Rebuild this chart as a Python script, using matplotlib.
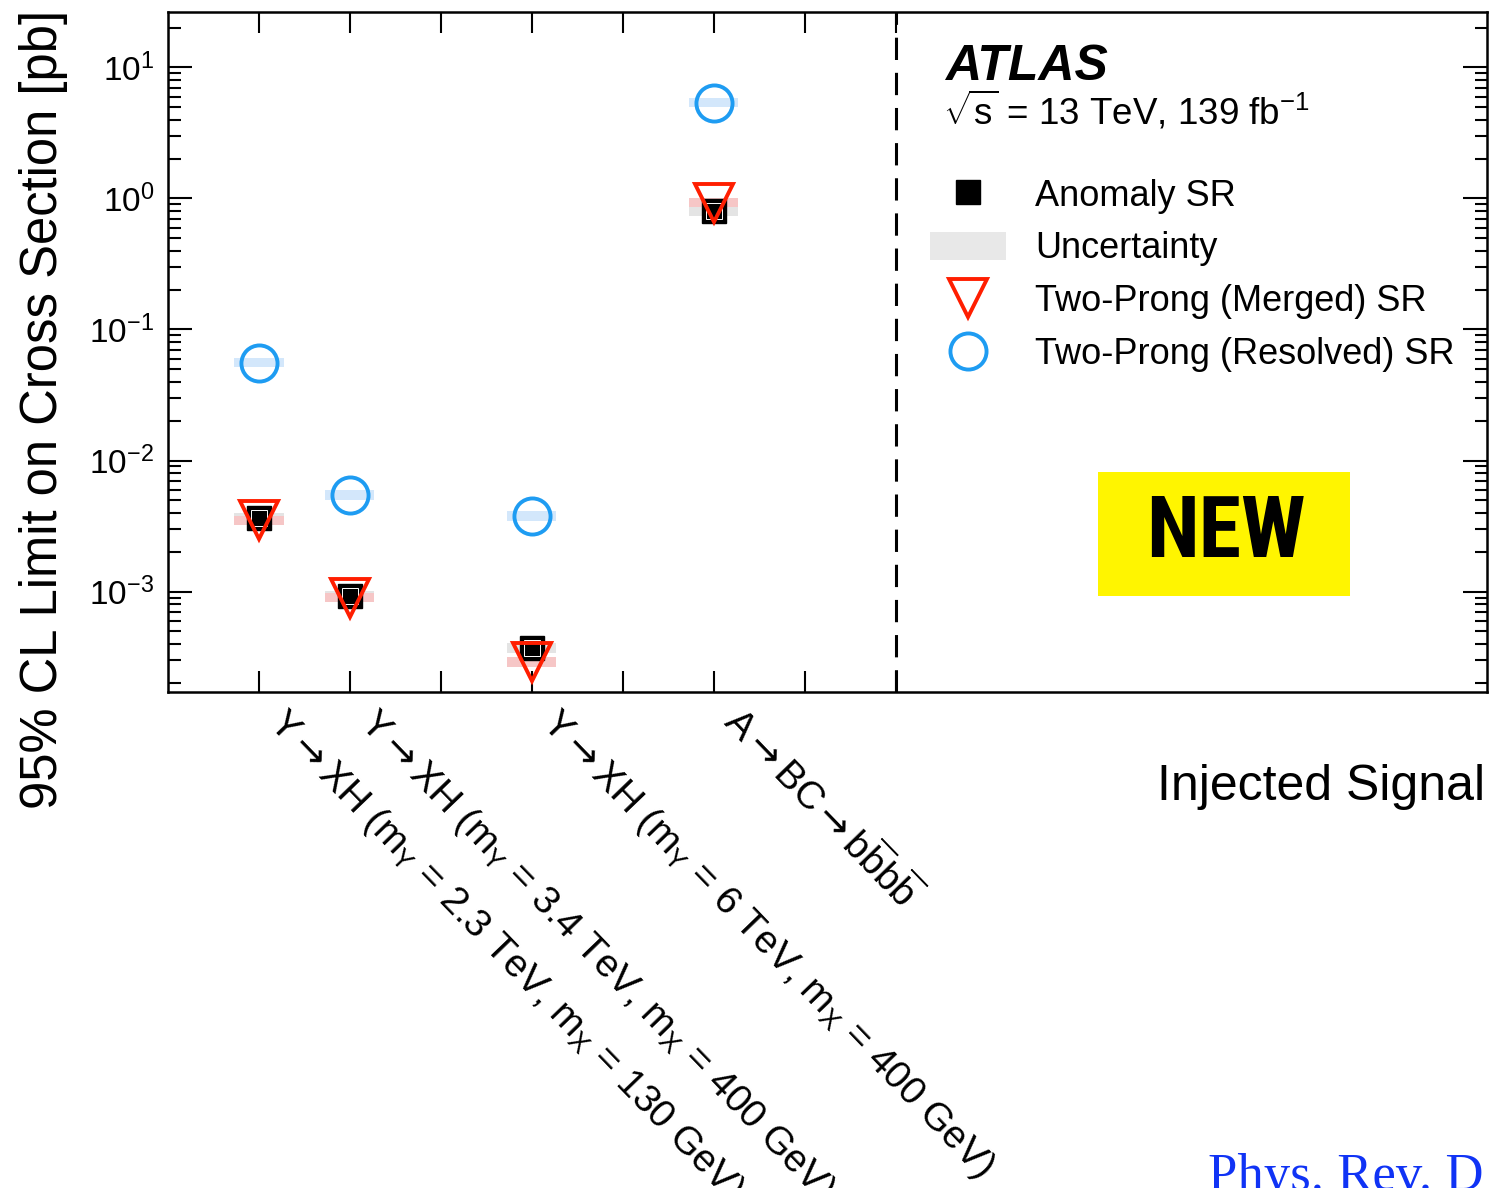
import matplotlib.pyplot as plt
import matplotlib.transforms as mtransforms
from matplotlib.lines import Line2D
from matplotlib.patches import Patch, Rectangle

plt.rcParams['font.family'] = ['Liberation Sans', 'DejaVu Sans']
plt.rcParams['mathtext.fontset'] = 'custom'
plt.rcParams['mathtext.rm'] = 'Liberation Sans'
plt.rcParams['mathtext.it'] = 'Liberation Sans'
plt.rcParams['mathtext.bf'] = 'Liberation Sans:bold'
plt.rcParams['mathtext.sf'] = 'DejaVu Sans'  # used for the bigger arrows

ARR = "$\\mathsf{\\rightarrow}$"

# injected signal positions on the x axis and their names
signal_pos = [1, 2, 4, 6]
signal_names = [
    "Y" + ARR + "XH (m$_{Y}$ = 2.3 TeV, m$_{X}$ = 130 GeV)",
    "Y" + ARR + "XH (m$_{Y}$ = 3.4 TeV, m$_{X}$ = 400 GeV)",
    "Y" + ARR + "XH (m$_{Y}$ = 6 TeV, m$_{X}$ = 400 GeV)",
    "A" + ARR + "BC" + ARR + "b$\\overline{\\mathrm{b}}$b$\\overline{\\mathrm{b}}$",
]

# 95% CL limits [pb] and their uncertainty ranges
anomaly = [0.00366, 0.00093, 0.000372, 0.807]
anomaly_lo = [0.00336, 0.00085, 0.000340, 0.740]
anomaly_hi = [0.00400, 0.00101, 0.000405, 0.880]

merged = [0.0035, 0.00090, 0.00029, 0.93]
merged_lo = [0.00322, 0.00083, 0.000267, 0.855]
merged_hi = [0.00380, 0.00098, 0.000316, 1.010]

resolved = [0.0558, 0.00546, 0.00377, 5.39]
resolved_lo = [0.0513, 0.00502, 0.00347, 4.96]
resolved_hi = [0.0607, 0.00594, 0.00410, 5.86]

fig = plt.figure(figsize=(14.9, 11.88), dpi=100)
ax = fig.add_axes([0.11275, 0.4175, 0.8852, 0.5724])
ax.set_yscale('log')
ax.set_xlim(0, 14.5)
ax.set_ylim(1.71e-4, 26.5)

# uncertainty bands
band_w = 0.54
for lo, hi, col in [(anomaly_lo, anomaly_hi, '#e4e4e4'),
                    (merged_lo, merged_hi, '#f6c6c6'),
                    (resolved_lo, resolved_hi, '#d3e7fb')]:
    heights = [h - l for l, h in zip(lo, hi)]
    ax.bar(signal_pos, heights, bottom=lo, width=band_w, color=col,
           edgecolor='none', zorder=2)

# markers
ax.plot(signal_pos, anomaly, ls='none', marker='s', ms=17, color='black', zorder=3)
ax.plot(signal_pos, anomaly, ls='none', marker='s', ms=12, mfc='none',
        mec='white', mew=0.7, zorder=3)
ax.plot(signal_pos, merged, ls='none', marker='v', ms=28, mfc='none',
        mec='#ff1e00', mew=2.8, zorder=4)
ax.plot(signal_pos, resolved, ls='none', marker='o', ms=26, mfc='none',
        mec='#1e9cf2', mew=2.8, zorder=4)

# dashed separator
ax.axvline(8, color='black', lw=2.2, ls=(0, (7.3, 4.2)), zorder=1)

# axes styling
for sp in ax.spines.values():
    sp.set_linewidth(1.8)
ax.tick_params(which='both', direction='in', top=True, right=True, width=1.5)
ax.tick_params(axis='y', which='major', length=17, labelsize=24, pad=10)
ax.tick_params(axis='y', which='minor', length=9)
ax.tick_params(axis='x', which='major', length=15)

ticks = list(range(1, 9))
tick_text = []
for t in ticks:
    tick_text.append(signal_names[signal_pos.index(t)] if t in signal_pos else '')
ax.set_xticks(ticks)
ax.set_xticklabels(tick_text, rotation=-46, ha='left', va='baseline',
                   rotation_mode='anchor', fontsize=28)
ax.tick_params(axis='x', pad=23)
shift = mtransforms.ScaledTranslation(0.08, 0, fig.dpi_scale_trans)
for lab in ax.get_xticklabels():
    lab.set_transform(lab.get_transform() + shift)

# titles
fig.text(0.029, 0.9916, '95% CL Limit on Cross Section [pb]', rotation=90,
         ha='center', va='top', fontsize=36.5)
fig.text(0.9966, 1 - 800 / 1188, 'Injected Signal', ha='right',
         va='baseline', fontsize=36)

ax.text(0.589, 0.9, 'ATLAS', transform=ax.transAxes, fontsize=36,
        fontweight='bold', fontstyle='italic', va='baseline')
ax.text(0.5876, 0.834, '$\\sqrt{s}$ = 13 TeV, 139 fb$^{-1}$',
        transform=ax.transAxes, fontsize=26.5, va='baseline')

handles = [
    Line2D([], [], ls='none', marker='s', ms=17, color='black'),
    Patch(facecolor='#e8e8e8', edgecolor='none'),
    Line2D([], [], ls='none', marker='v', ms=28, mfc='none', mec='#ff1e00', mew=2.8),
    Line2D([], [], ls='none', marker='o', ms=26, mfc='none', mec='#1e9cf2', mew=2.8),
]
labels = ['Anomaly SR', 'Uncertainty', 'Two-Prong (Merged) SR',
          'Two-Prong (Resolved) SR']
ax.legend(handles, labels, loc='upper left', bbox_to_anchor=(0.578, 0.755),
          frameon=False, fontsize=26, handlelength=2.1, handleheight=0.8,
          handletextpad=0.8, labelspacing=0.49, borderpad=0, borderaxespad=0)

# NEW badge
ax.add_patch(Rectangle((0.705, 0.141), 0.191, 0.1825, transform=ax.transAxes,
                       facecolor='#fff500', edgecolor='none', zorder=5))
ax.text(0.802, 0.233, 'NEW', transform=ax.transAxes, ha='center',
        va='center', fontsize=62, fontweight='heavy', fontstretch='condensed',
        zorder=6, family=['Roboto Condensed', 'Liberation Sans Narrow',
                          'Liberation Sans'])

fig.text(1208 / 1490, -0.0017, 'Phys. Rev. D', fontsize=38, color='#1033f5',
         va='baseline', family=['Liberation Serif', 'DejaVu Serif'])

fig.savefig('out.png', dpi=100)
